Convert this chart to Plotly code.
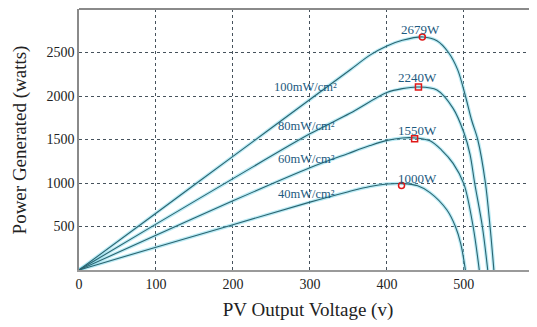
import plotly.graph_objects as go

# ---- data ----
v_100 = [0, 100, 200, 300, 352, 378, 400, 420, 447, 465, 480, 492, 502, 510, 518, 528, 534, 539]
p_100 = [0, 653, 1306, 1960, 2299, 2470, 2575, 2640, 2679, 2635, 2500, 2300, 2000, 1724, 1500, 1000, 500, 0]

v_80 = [0, 100, 200, 300, 352, 400, 420, 441, 465, 486, 500, 508, 514, 524, 531]
p_80 = [0, 527, 1050, 1565, 1801, 2040, 2085, 2103, 2069, 1858, 1580, 1330, 1000, 500, 0]

v_60 = [0, 100, 200, 300, 350, 378, 400, 420, 437, 456, 471, 486, 500, 512, 520]
p_60 = [0, 398, 795, 1175, 1340, 1430, 1490, 1518, 1518, 1485, 1379, 1226, 990, 500, 0]

v_40 = [0, 100, 200, 300, 350, 378, 400, 420, 440, 456, 478, 489, 496, 502]
p_40 = [0, 262, 520, 780, 900, 960, 988, 993, 968, 890, 690, 500, 300, 0]

curve_labels = ["100mW/cm²", "80mW/cm²", "60mW/cm²", "40mW/cm²"]
mpp_v = [446, 441, 436, 419]
mpp_p = [2679, 2103, 1510, 972]
mpp_labels = ["2679W", "2240W", "1550W", "1000W"]
mpp_symbols = ["circle-open", "square-open", "square-open", "circle-open"]

x_ticks = [0, 100, 200, 300, 400, 500]
y_ticks = [500, 1000, 1500, 2000, 2500]

curves = [(v_100, p_100), (v_80, p_80), (v_60, p_60), (v_40, p_40)]

fig = go.Figure()
for v, p in curves:
    fig.add_trace(go.Scatter(x=v, y=p, mode="lines", line=dict(color="rgba(120,215,235,0.5)", width=3.5, shape="spline", smoothing=0.9), hoverinfo="skip", showlegend=False))
for v, p in curves:
    fig.add_trace(go.Scatter(x=v, y=p, mode="lines", line=dict(color="#2a6470", width=1.1, shape="spline", smoothing=0.9), showlegend=False))

fig.add_trace(go.Scatter(x=mpp_v, y=mpp_p, mode="markers",
                         marker=dict(symbol=mpp_symbols, size=6, color="#e01818", line=dict(color="#e01818", width=1.5)),
                         showlegend=False))

label_color = "#1d5a80"
font_fam = "Liberation Serif, Times New Roman, serif"

# value labels above the MPP markers
val_pos = [(443, 2759), (440, 2218), (440, 1609), (440, 1057)]
for (x, y), t in zip(val_pos, mpp_labels):
    fig.add_annotation(x=x, y=y, text=t, showarrow=False, font=dict(family=font_fam, size=13, color=label_color))

# irradiance labels
lab_pos = [(294, 2103), (296, 1655), (295, 1276), (295, 874)]
for (x, y), t in zip(lab_pos, curve_labels):
    fig.add_annotation(x=x, y=y, text=t, showarrow=False, font=dict(family=font_fam, size=12.5, color=label_color))

# y-axis title
fig.add_annotation(xref="paper", yref="paper", x=-0.129, y=0.5, xanchor="center", yanchor="middle",
                   text="Power Generated (watts)", textangle=-90, showarrow=False,
                   font=dict(family=font_fam, size=19, color="#222"))

grid_color = "#46525c"
fig.update_layout(
    width=537, height=327,
    margin=dict(l=71, r=8, t=1, b=65),
    paper_bgcolor="white", plot_bgcolor="white",
    font=dict(family=font_fam, size=14, color="#222"),
    xaxis=dict(range=[0, 595], tickvals=x_ticks, showgrid=True, gridcolor=grid_color, griddash="dot", gridwidth=1,
               zeroline=False, showline=True, linecolor="#9a9a9a", linewidth=2, automargin=False,
               title=dict(text="PV Output Voltage (v)", font=dict(size=19, color="#222"), standoff=12),
               tickfont=dict(size=14, color="#222")),
    yaxis=dict(range=[0, 3000], tickvals=y_ticks, showgrid=True, gridcolor=grid_color, griddash="dot", gridwidth=1,
               zeroline=False, showline=True, linecolor="#8a8a8a", linewidth=1.5, automargin=False,
               tickfont=dict(size=14, color="#222")),
)
# top border line
fig.add_shape(type="line", xref="paper", yref="paper", x0=0, x1=1, y0=1, y1=1, line=dict(color="#8a8a8a", width=2))

fig.write_html("out.html")
